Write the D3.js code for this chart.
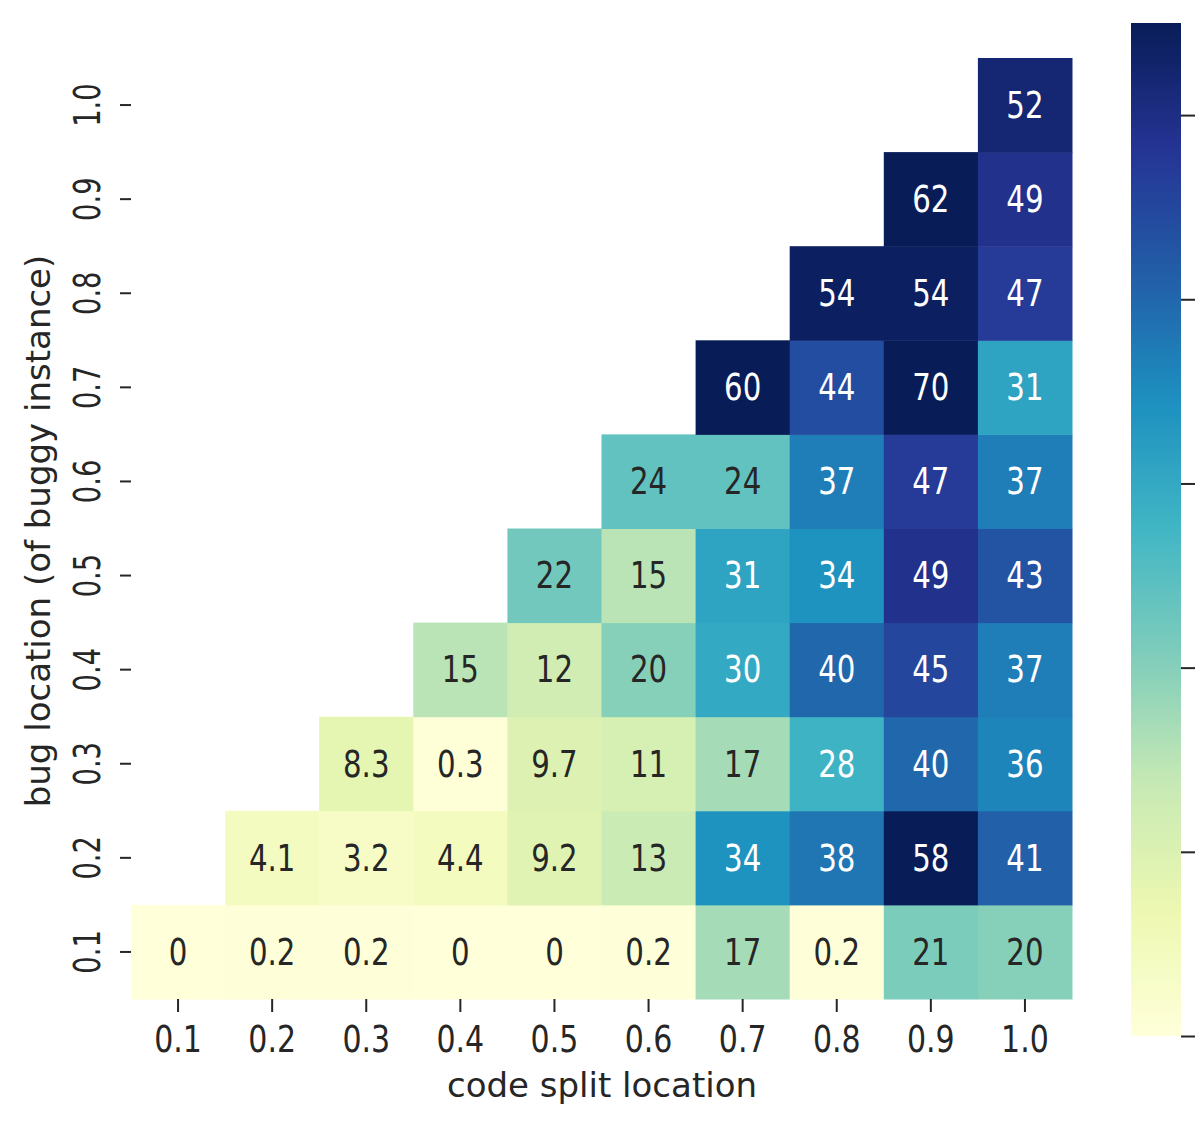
<!DOCTYPE html>
<html>
<head>
<meta charset="utf-8">
<script src="https://cdn.jsdelivr.net/npm/d3@7"></script>
<style>
	body{margin:0;background:#fff;}
	text{font-family:"DejaVu Sans",sans-serif;fill:#262626;}
</style>
</head>
<body>
<script>
//categories on both axes
var xLabels=["0.1","0.2","0.3","0.4","0.5","0.6","0.7","0.8","0.9","1.0"]; //code split location
var yLabels=["0.1","0.2","0.3","0.4","0.5","0.6","0.7","0.8","0.9","1.0"]; //bug location

//cell values, one array per bug location (null = masked cell)
var row01=[0,0.2,0.2,0,0,0.2,17,0.2,21,20];
var row02=[null,4.1,3.2,4.4,9.2,13,34,38,58,41];
var row03=[null,null,8.3,0.3,9.7,11,17,28,40,36];
var row04=[null,null,null,15,12,20,30,40,45,37];
var row05=[null,null,null,null,22,15,31,34,49,43];
var row06=[null,null,null,null,null,24,24,37,47,37];
var row07=[null,null,null,null,null,null,60,44,70,31];
var row08=[null,null,null,null,null,null,null,54,54,47];
var row09=[null,null,null,null,null,null,null,null,62,49];
var row10=[null,null,null,null,null,null,null,null,null,52];

//colour bar ticks
var cbarTicks=[0,10,20,30,40,50];

(function(){
	var width=1196,height=1131;
	var rows=[row01,row02,row03,row04,row05,row06,row07,row08,row09,row10];
	var vmax=55;
	var sx=0.79; //narrow glyphs as in the reference

	//matplotlib YlGnBu stops
	var ylgnbu=["#ffffd9","#edf8b1","#c7e9b4","#7fcdbb","#41b6c4","#1d91c0","#225ea8","#253494","#081d58"];
	var color=d3.scaleLinear()
		.domain(ylgnbu.map(function(c,i){return i/(ylgnbu.length-1)*vmax;}))
		.range(ylgnbu)
		.interpolate(d3.interpolateRgb)
		.clamp(true);

	var svg=d3.select("body").append("svg")
		.attr("width",width)
		.attr("height",height);

	//heatmap frame
	var x=d3.scaleBand().domain(xLabels).range([131,1072]);
	var y=d3.scaleBand().domain(yLabels.slice().reverse()).range([58,999]);

	//flatten rows into cells
	var cells=[];
	rows.forEach(function(r,j){
		r.forEach(function(v,i){
			if (v!==null) cells.push({x:xLabels[i],y:yLabels[j],v:v});
		});
	});

	svg.selectAll(".cell")
		.data(cells)
		.enter()
		.append("rect")
		.attr("class","cell")
		.attr("x",function(d){return x(d.x);})
		.attr("y",function(d){return y(d.y);})
		.attr("width",x.bandwidth()+0.5)
		.attr("height",y.bandwidth()+0.5)
		.style("fill",function(d){return color(d.v);});

	//text colour like seaborn: white on dark cells
	function lum(c){
		var rgb=d3.rgb(c);
		var ch=[rgb.r,rgb.g,rgb.b].map(function(u){
			u=u/255;
			return u<=0.03928?u/12.92:Math.pow((u+0.055)/1.055,2.4);
		});
		return 0.2126*ch[0]+0.7152*ch[1]+0.0722*ch[2];
	}
	var fmt=d3.format(".2~g");

	svg.selectAll(".annot")
		.data(cells)
		.enter()
		.append("text")
		.attr("class","annot")
		.attr("transform",function(d){
			return "translate("+(x(d.x)+x.bandwidth()/2)+","+(y(d.y)+y.bandwidth()/2)+") scale("+sx+",1)";
		})
		.attr("text-anchor","middle")
		.attr("dominant-baseline","central")
		.style("font-size","37px")
		.style("fill",function(d){return lum(color(d.v))>0.408?"#262626":"#ffffff";})
		.text(function(d){return fmt(d.v);});

	//x axis
	var xAxis=svg.append("g").attr("class","xaxis");
	xAxis.selectAll("line")
		.data(xLabels)
		.enter()
		.append("line")
		.attr("x1",function(d){return x(d)+x.bandwidth()/2;})
		.attr("x2",function(d){return x(d)+x.bandwidth()/2;})
		.attr("y1",999)
		.attr("y2",1012)
		.style("stroke","#262626")
		.style("stroke-width",2);
	xAxis.selectAll("text")
		.data(xLabels)
		.enter()
		.append("text")
		.attr("transform",function(d){
			return "translate("+(x(d)+x.bandwidth()/2)+",1052) scale("+sx+",1)";
		})
		.attr("text-anchor","middle")
		.style("font-size","38px")
		.text(function(d){return d;});

	//y axis
	var yAxis=svg.append("g").attr("class","yaxis");
	yAxis.selectAll("line")
		.data(yLabels)
		.enter()
		.append("line")
		.attr("x1",120)
		.attr("x2",131)
		.attr("y1",function(d){return y(d)+y.bandwidth()/2;})
		.attr("y2",function(d){return y(d)+y.bandwidth()/2;})
		.style("stroke","#262626")
		.style("stroke-width",2);
	yAxis.selectAll("text")
		.data(yLabels)
		.enter()
		.append("text")
		.attr("transform",function(d){
			return "translate(100,"+(y(d)+y.bandwidth()/2)+") rotate(-90) scale(0.74,1)";
		})
		.attr("text-anchor","middle")
		.style("font-size","37px")
		.text(function(d){return d;});

	//axis titles
	svg.append("text")
		.attr("x",602)
		.attr("y",1097)
		.attr("text-anchor","middle")
		.style("font-size","34px")
		.text("code split location");
	svg.append("text")
		.attr("transform","translate(50,531) rotate(-90)")
		.attr("text-anchor","middle")
		.style("font-size","34px")
		.text("bug location (of buggy instance)");

	//colour bar
	var cbY=d3.scaleLinear().domain([0,vmax]).range([1036,23]);
	var defs=svg.append("defs");
	var grad=defs.append("linearGradient")
		.attr("id","cbar")
		.attr("x1",0).attr("y1",1).attr("x2",0).attr("y2",0);
	grad.selectAll("stop")
		.data(d3.range(0,1.0001,0.02))
		.enter()
		.append("stop")
		.attr("offset",function(d){return d;})
		.attr("stop-color",function(d){return color(d*vmax);});
	svg.append("rect")
		.attr("x",1131)
		.attr("y",cbY(vmax))
		.attr("width",50)
		.attr("height",cbY(0)-cbY(vmax))
		.style("fill","url(#cbar)");

	var cbAxis=d3.axisRight(cbY)
		.tickValues(cbarTicks)
		.tickSize(14)
		.tickFormat("");
	svg.append("g")
		.attr("class","cbaxis")
		.attr("transform","translate(1181,0)")
		.call(cbAxis)
		.call(function(g){
			g.select(".domain").remove();
			g.selectAll("line").style("stroke","#262626").style("stroke-width",2);
		});
})();
</script>
</body>
</html>
